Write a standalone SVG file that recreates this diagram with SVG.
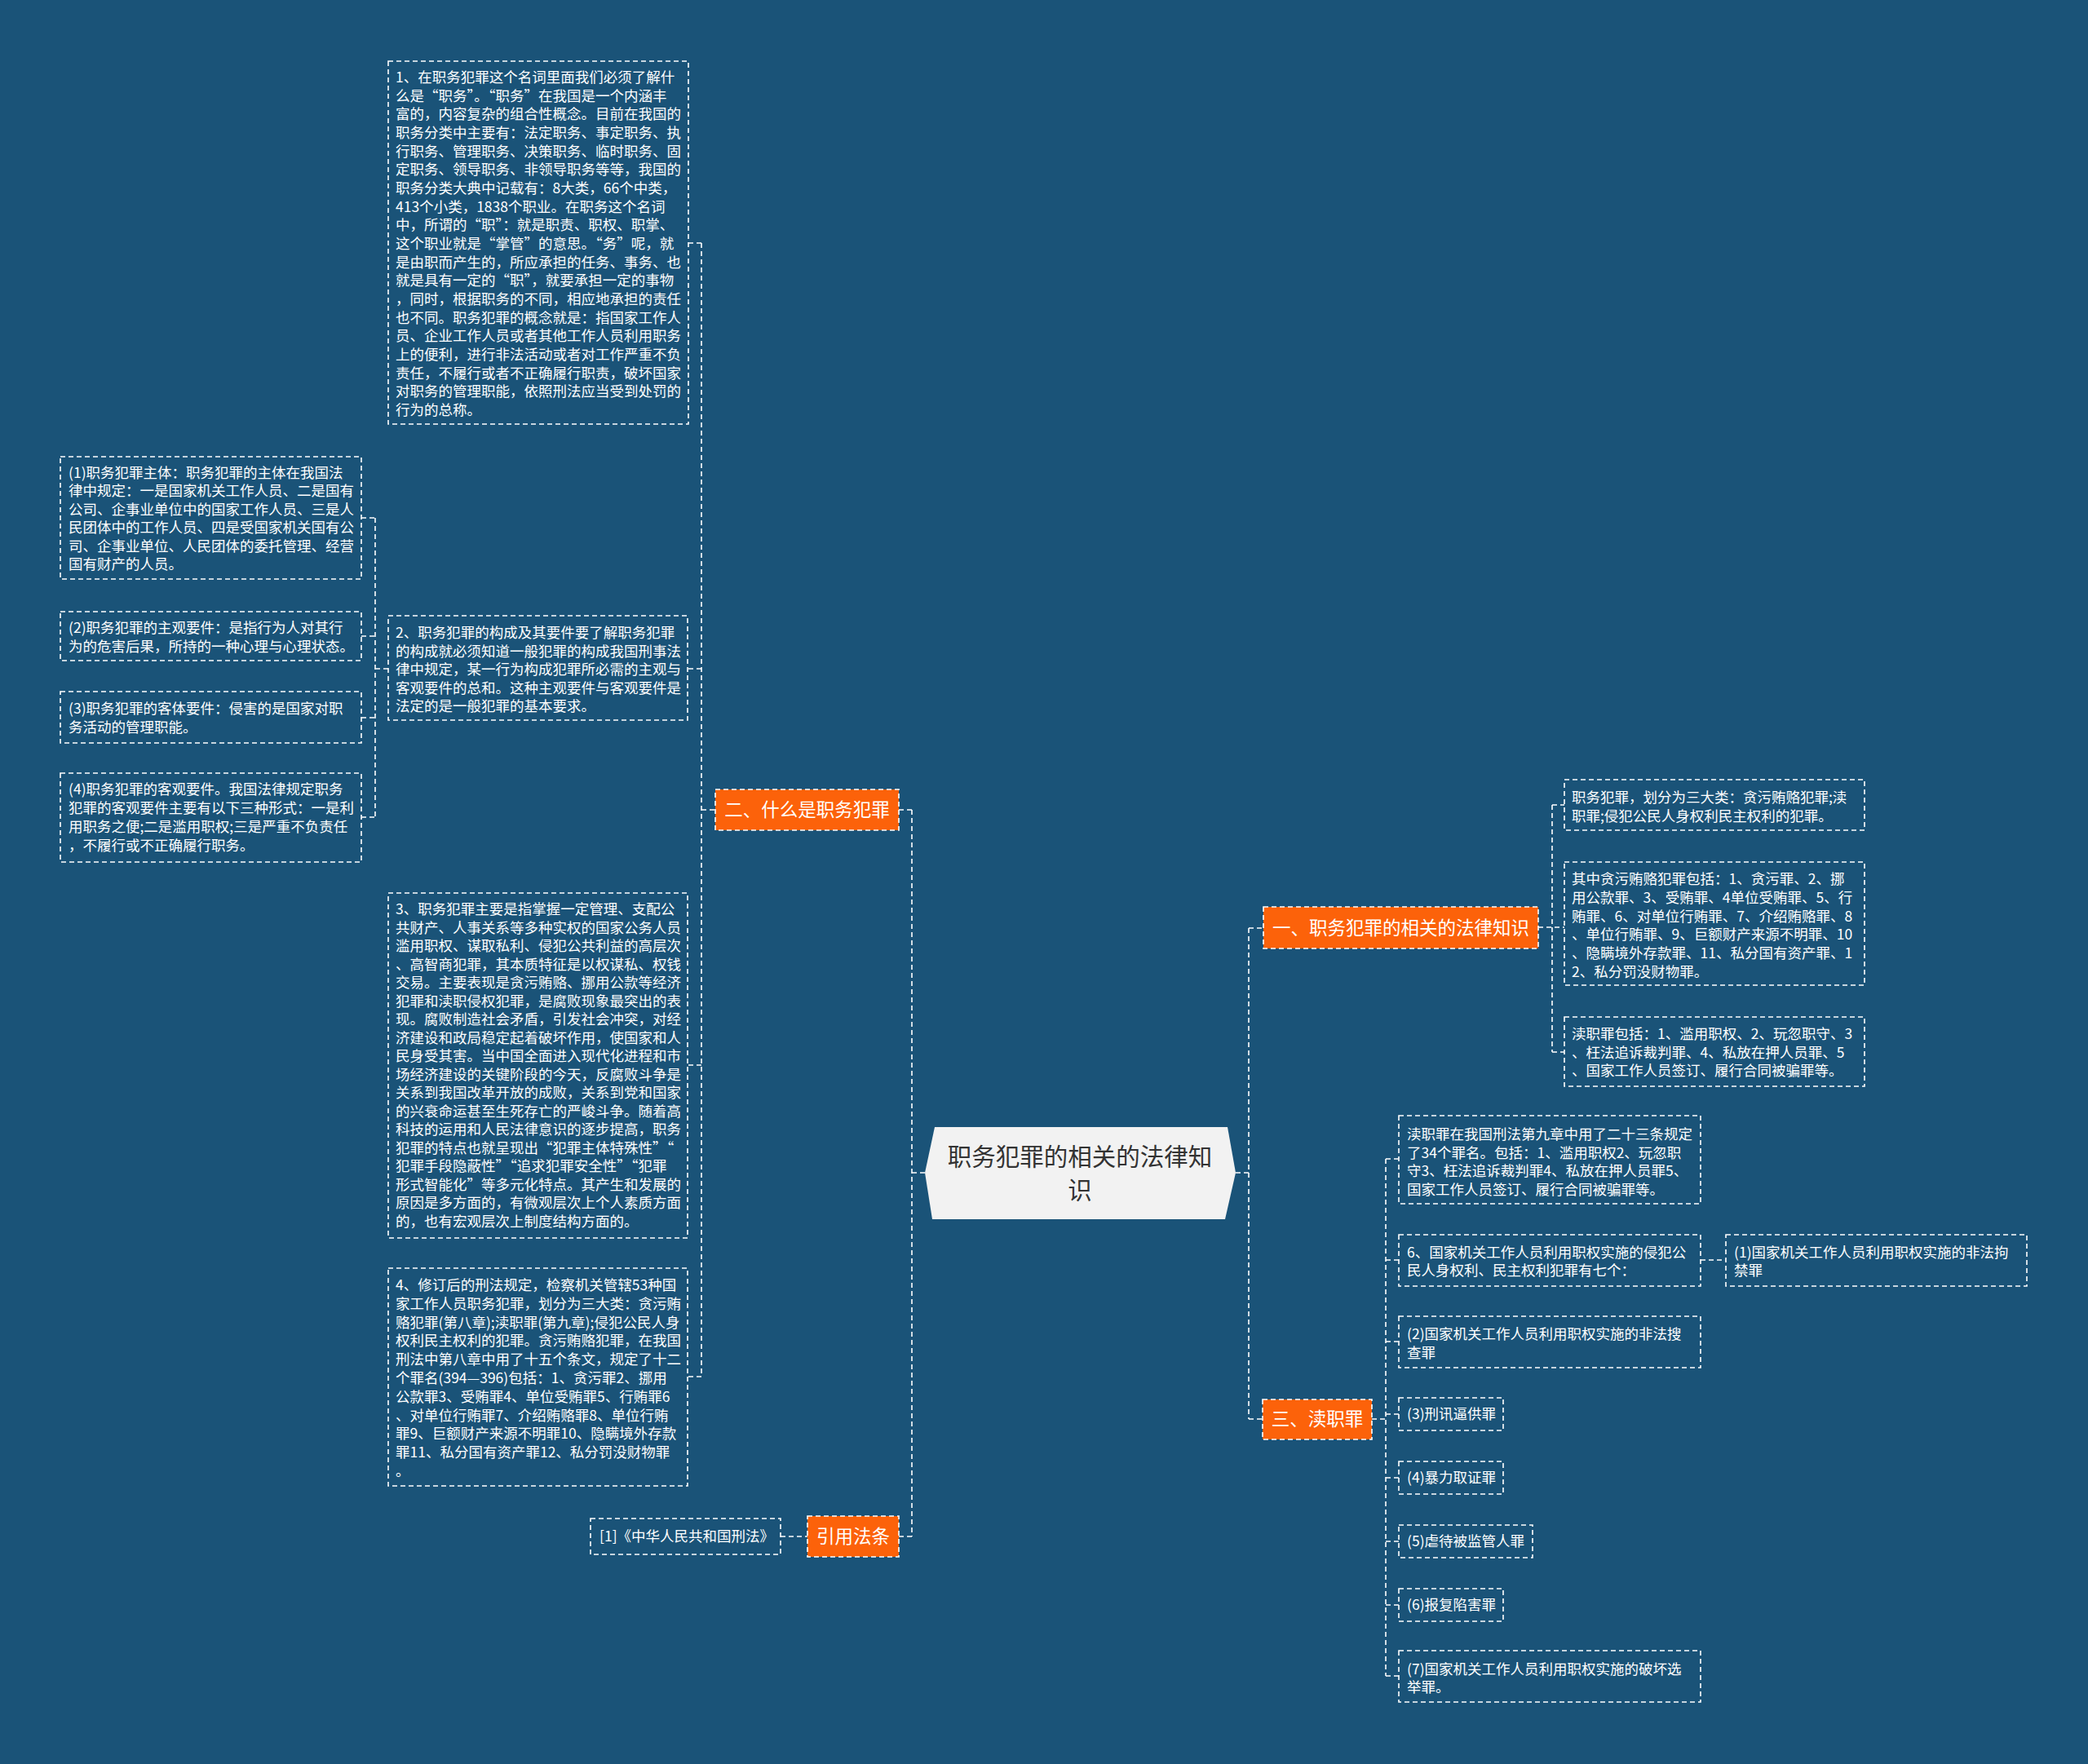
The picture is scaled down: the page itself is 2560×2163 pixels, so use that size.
<svg xmlns="http://www.w3.org/2000/svg" width="2560" height="2163" viewBox="0 0 2560 2163">
<style>
.bg{fill:#1A5378}
.box{fill:none;stroke:#ffffff;stroke-width:1.6;stroke-dasharray:6 4}
.obox{fill:#FC620A;stroke:#ffffff;stroke-width:1.6;stroke-dasharray:6 4}
.t{font-family:"Noto Sans CJK SC","Microsoft YaHei",sans-serif;font-size:17.5px;fill:#ffffff}
.ot{font-family:"Noto Sans CJK SC","Microsoft YaHei",sans-serif;font-size:22.5px;fill:#ffffff;text-anchor:middle}
.ct{font-family:"Noto Sans CJK SC","Microsoft YaHei",sans-serif;font-size:29.5px;fill:#333333;text-anchor:middle}
.c{fill:none;stroke:#ffffff;stroke-width:1.6;stroke-dasharray:6 4}
</style>
<rect class="bg" x="0" y="0" width="2560" height="2163"/>

<g id="connectors">
<path class="c" d="M1134 1438 H1118 M1118 993 V1884 M1102 993 H1118 M1102 1884 H1118"/>
<path class="c" d="M860 298 V1688 M844 298 H860 M844 820 H860 M844 1306 H860 M844 1688 H860 M860 993 H877"/>
<path class="c" d="M460 635 V1002 M443 635 H460 M443 780 H460 M443 880 H460 M443 1002 H460 M460 820 H476"/>
<path class="c" d="M957 1884 H990"/>
<path class="c" d="M1515 1438 H1531 M1531 1138 V1740 M1531 1138 H1549 M1531 1740 H1548"/>
<path class="c" d="M1903 987 V1290 M1886 1137 H1918 M1903 987 H1918 M1903 1290 H1918"/>
<path class="c" d="M1699 1421 V2055 M1682 1740 H1699 M1699 1421 H1715 M1699 1545 H1715 M1699 1645 H1715 M1699 1734 H1715 M1699 1812 H1715 M1699 1890 H1715 M1699 1968 H1715 M1699 2055 H1715"/>
<path class="c" d="M2085 1545 H2116"/>
</g>

<g id="center">
<polygon points="1146,1382 1505,1382 1515,1438 1502,1495 1143,1495 1134,1438" fill="#F2F2F2"/>
<text class="ct" x="1324" y="1429">职务犯罪的相关的法律知</text>
<text class="ct" x="1324" y="1470">识</text>
</g>

<g id="n2">
<rect class="obox" x="877" y="968" width="225" height="50"/>
<text class="ot" x="989.5" y="1001">二、什么是职务犯罪</text>
</g>

<g id="n2-1">
<rect class="box" x="476" y="75" width="368" height="445"/>
<text class="t">
<tspan x="485" y="101">1、在职务犯罪这个名词里面我们必须了解什</tspan>
<tspan x="485" y="123.7">么是“职务”。“职务”在我国是一个内涵丰</tspan>
<tspan x="485" y="146.3">富的，内容复杂的组合性概念。目前在我国的</tspan>
<tspan x="485" y="169">职务分类中主要有：法定职务、事定职务、执</tspan>
<tspan x="485" y="191.7">行职务、管理职务、决策职务、临时职务、固</tspan>
<tspan x="485" y="214.3">定职务、领导职务、非领导职务等等，我国的</tspan>
<tspan x="485" y="237">职务分类大典中记载有：8大类，66个中类，</tspan>
<tspan x="485" y="259.7">413个小类，1838个职业。在职务这个名词</tspan>
<tspan x="485" y="282.3">中，所谓的“职”：就是职责、职权、职掌、</tspan>
<tspan x="485" y="305">这个职业就是“掌管”的意思。“务”呢，就</tspan>
<tspan x="485" y="327.7">是由职而产生的，所应承担的任务、事务、也</tspan>
<tspan x="485" y="350.3">就是具有一定的“职”，就要承担一定的事物</tspan>
<tspan x="485" y="373">，同时，根据职务的不同，相应地承担的责任</tspan>
<tspan x="485" y="395.7">也不同。职务犯罪的概念就是：指国家工作人</tspan>
<tspan x="485" y="418.3">员、企业工作人员或者其他工作人员利用职务</tspan>
<tspan x="485" y="441">上的便利，进行非法活动或者对工作严重不负</tspan>
<tspan x="485" y="463.7">责任，不履行或者不正确履行职责，破坏国家</tspan>
<tspan x="485" y="486.3">对职务的管理职能，依照刑法应当受到处罚的</tspan>
<tspan x="485" y="509">行为的总称。</tspan>
</text>
</g>

<g id="n2-2">
<rect class="box" x="476" y="755" width="367" height="128"/>
<text class="t">
<tspan x="485" y="782">2、职务犯罪的构成及其要件要了解职务犯罪</tspan>
<tspan x="485" y="804.5">的构成就必须知道一般犯罪的构成我国刑事法</tspan>
<tspan x="485" y="827">律中规定，某一行为构成犯罪所必需的主观与</tspan>
<tspan x="485" y="849.5">客观要件的总和。这种主观要件与客观要件是</tspan>
<tspan x="485" y="872">法定的是一般犯罪的基本要求。</tspan>
</text>
</g>

<g id="n2-2-1">
<rect class="box" x="74" y="560" width="369" height="150"/>
<text class="t">
<tspan x="84" y="586">(1)职务犯罪主体：职务犯罪的主体在我国法</tspan>
<tspan x="84" y="608.4">律中规定：一是国家机关工作人员、二是国有</tspan>
<tspan x="84" y="630.8">公司、企事业单位中的国家工作人员、三是人</tspan>
<tspan x="84" y="653.2">民团体中的工作人员、四是受国家机关国有公</tspan>
<tspan x="84" y="675.6">司、企事业单位、人民团体的委托管理、经营</tspan>
<tspan x="84" y="698">国有财产的人员。</tspan>
</text>
</g>

<g id="n2-2-2">
<rect class="box" x="74" y="750" width="369" height="60"/>
<text class="t">
<tspan x="84" y="776">(2)职务犯罪的主观要件：是指行为人对其行</tspan>
<tspan x="84" y="799">为的危害后果，所持的一种心理与心理状态。</tspan>
</text>
</g>

<g id="n2-2-3">
<rect class="box" x="74" y="848" width="369" height="63"/>
<text class="t">
<tspan x="84" y="875">(3)职务犯罪的客体要件：侵害的是国家对职</tspan>
<tspan x="84" y="898">务活动的管理职能。</tspan>
</text>
</g>

<g id="n2-2-4">
<rect class="box" x="74" y="948" width="369" height="109"/>
<text class="t">
<tspan x="84" y="974">(4)职务犯罪的客观要件。我国法律规定职务</tspan>
<tspan x="84" y="997">犯罪的客观要件主要有以下三种形式：一是利</tspan>
<tspan x="84" y="1020">用职务之便;二是滥用职权;三是严重不负责任</tspan>
<tspan x="84" y="1043">，不履行或不正确履行职务。</tspan>
</text>
</g>

<g id="n2-3">
<rect class="box" x="476" y="1095" width="367" height="423"/>
<text class="t">
<tspan x="485" y="1121">3、职务犯罪主要是指掌握一定管理、支配公</tspan>
<tspan x="485" y="1143.5">共财产、人事关系等多种实权的国家公务人员</tspan>
<tspan x="485" y="1166">滥用职权、谋取私利、侵犯公共利益的高层次</tspan>
<tspan x="485" y="1188.5">、高智商犯罪，其本质特征是以权谋私、权钱</tspan>
<tspan x="485" y="1211">交易。主要表现是贪污贿赂、挪用公款等经济</tspan>
<tspan x="485" y="1233.5">犯罪和渎职侵权犯罪，是腐败现象最突出的表</tspan>
<tspan x="485" y="1256">现。腐败制造社会矛盾，引发社会冲突，对经</tspan>
<tspan x="485" y="1278.5">济建设和政局稳定起着破坏作用，使国家和人</tspan>
<tspan x="485" y="1301">民身受其害。当中国全面进入现代化进程和市</tspan>
<tspan x="485" y="1323.5">场经济建设的关键阶段的今天，反腐败斗争是</tspan>
<tspan x="485" y="1346">关系到我国改革开放的成败，关系到党和国家</tspan>
<tspan x="485" y="1368.5">的兴衰命运甚至生死存亡的严峻斗争。随着高</tspan>
<tspan x="485" y="1391">科技的运用和人民法律意识的逐步提高，职务</tspan>
<tspan x="485" y="1413.5">犯罪的特点也就呈现出“犯罪主体特殊性”“</tspan>
<tspan x="485" y="1436">犯罪手段隐蔽性”“追求犯罪安全性”“犯罪</tspan>
<tspan x="485" y="1458.5">形式智能化”等多元化特点。其产生和发展的</tspan>
<tspan x="485" y="1481">原因是多方面的，有微观层次上个人素质方面</tspan>
<tspan x="485" y="1503.5">的，也有宏观层次上制度结构方面的。</tspan>
</text>
</g>

<g id="n2-4">
<rect class="box" x="476" y="1555" width="367" height="267"/>
<text class="t">
<tspan x="485" y="1582">4、修订后的刑法规定，检察机关管辖53种国</tspan>
<tspan x="485" y="1604.8">家工作人员职务犯罪，划分为三大类：贪污贿</tspan>
<tspan x="485" y="1627.6">赂犯罪(第八章);渎职罪(第九章);侵犯公民人身</tspan>
<tspan x="485" y="1650.4">权利民主权利的犯罪。贪污贿赂犯罪，在我国</tspan>
<tspan x="485" y="1673.2">刑法中第八章中用了十五个条文，规定了十二</tspan>
<tspan x="485" y="1696">个罪名(394—396)包括：1、贪污罪2、挪用</tspan>
<tspan x="485" y="1718.8">公款罪3、受贿罪4、单位受贿罪5、行贿罪6</tspan>
<tspan x="485" y="1741.6">、对单位行贿罪7、介绍贿赂罪8、单位行贿</tspan>
<tspan x="485" y="1764.4">罪9、巨额财产来源不明罪10、隐瞒境外存款</tspan>
<tspan x="485" y="1787.2">罪11、私分国有资产罪12、私分罚没财物罪</tspan>
<tspan x="485" y="1810">。</tspan>
</text>
</g>

<g id="nref">
<rect class="obox" x="990" y="1859" width="112" height="50"/>
<text class="ot" x="1046" y="1892">引用法条</text>
</g>

<g id="nref-1">
<rect class="box" x="724" y="1862" width="233" height="44"/>
<text class="t" x="735" y="1890">[1]《中华人民共和国刑法》</text>
</g>

<g id="n1">
<rect class="obox" x="1549" y="1112" width="337" height="51"/>
<text class="ot" x="1717.5" y="1146">一、职务犯罪的相关的法律知识</text>
</g>

<g id="n1-1">
<rect class="box" x="1918" y="956" width="368" height="62"/>
<text class="t">
<tspan x="1927" y="984">职务犯罪，划分为三大类：贪污贿赂犯罪;渎</tspan>
<tspan x="1927" y="1006.5">职罪;侵犯公民人身权利民主权利的犯罪。</tspan>
</text>
</g>

<g id="n1-2">
<rect class="box" x="1918" y="1057" width="368" height="151"/>
<text class="t">
<tspan x="1927" y="1084">其中贪污贿赂犯罪包括：1、贪污罪、2、挪</tspan>
<tspan x="1927" y="1106.8">用公款罪、3、受贿罪、4单位受贿罪、5、行</tspan>
<tspan x="1927" y="1129.6">贿罪、6、对单位行贿罪、7、介绍贿赂罪、8</tspan>
<tspan x="1927" y="1152.4">、单位行贿罪、9、巨额财产来源不明罪、10</tspan>
<tspan x="1927" y="1175.2">、隐瞒境外存款罪、11、私分国有资产罪、1</tspan>
<tspan x="1927" y="1198">2、私分罚没财物罪。</tspan>
</text>
</g>

<g id="n1-3">
<rect class="box" x="1918" y="1247" width="368" height="85"/>
<text class="t">
<tspan x="1927" y="1274">渎职罪包括：1、滥用职权、2、玩忽职守、3</tspan>
<tspan x="1927" y="1296.5">、枉法追诉裁判罪、4、私放在押人员罪、5</tspan>
<tspan x="1927" y="1319">、国家工作人员签订、履行合同被骗罪等。</tspan>
</text>
</g>

<g id="n3">
<rect class="obox" x="1548" y="1716" width="134" height="49"/>
<text class="ot" x="1615" y="1748">三、渎职罪</text>
</g>

<g id="n3-1">
<rect class="box" x="1715" y="1368" width="370" height="108"/>
<text class="t">
<tspan x="1725" y="1397">渎职罪在我国刑法第九章中用了二十三条规定</tspan>
<tspan x="1725" y="1419.5">了34个罪名。包括：1、滥用职权2、玩忽职</tspan>
<tspan x="1725" y="1442">守3、枉法追诉裁判罪4、私放在押人员罪5、</tspan>
<tspan x="1725" y="1464.5">国家工作人员签订、履行合同被骗罪等。</tspan>
</text>
</g>

<g id="n3-2">
<rect class="box" x="1715" y="1514" width="370" height="63"/>
<text class="t">
<tspan x="1725" y="1541.5">6、国家机关工作人员利用职权实施的侵犯公</tspan>
<tspan x="1725" y="1564">民人身权利、民主权利犯罪有七个：</tspan>
</text>
</g>

<g id="n3-2-1">
<rect class="box" x="2116" y="1514" width="369" height="63"/>
<text class="t">
<tspan x="2126" y="1541.5">(1)国家机关工作人员利用职权实施的非法拘</tspan>
<tspan x="2126" y="1564">禁罪</tspan>
</text>
</g>

<g id="n3-3">
<rect class="box" x="1715" y="1614" width="370" height="63"/>
<text class="t">
<tspan x="1725" y="1642">(2)国家机关工作人员利用职权实施的非法搜</tspan>
<tspan x="1725" y="1664.5">查罪</tspan>
</text>
</g>

<g id="n3-4">
<rect class="box" x="1715" y="1714" width="128" height="40"/>
<text class="t" x="1725" y="1740">(3)刑讯逼供罪</text>
</g>

<g id="n3-5">
<rect class="box" x="1715" y="1792" width="128" height="40"/>
<text class="t" x="1725" y="1818">(4)暴力取证罪</text>
</g>

<g id="n3-6">
<rect class="box" x="1715" y="1870" width="164" height="40"/>
<text class="t" x="1725" y="1896">(5)虐待被监管人罪</text>
</g>

<g id="n3-7">
<rect class="box" x="1715" y="1948" width="128" height="40"/>
<text class="t" x="1725" y="1974">(6)报复陷害罪</text>
</g>

<g id="n3-8">
<rect class="box" x="1715" y="2024" width="370" height="63"/>
<text class="t">
<tspan x="1725" y="2053">(7)国家机关工作人员利用职权实施的破坏选</tspan>
<tspan x="1725" y="2075">举罪。</tspan>
</text>
</g>
</svg>
